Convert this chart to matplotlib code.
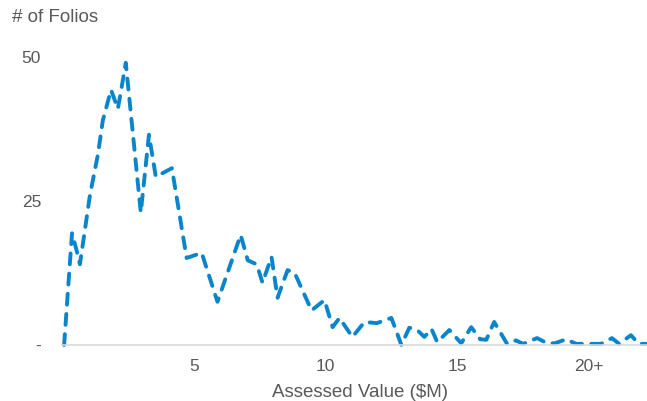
import matplotlib
matplotlib.use("Agg")
from matplotlib import pyplot as plt

# values (x in $M, y = number of folios)
value_m = [0.08, 0.38, 0.55, 0.68, 1.06, 1.36, 1.55, 1.86, 2.12, 2.31, 2.42,
           2.99, 3.30, 3.56, 4.17, 4.73, 5.30, 5.90, 6.78, 7.05, 7.39, 7.61,
           7.95, 8.18, 8.56, 8.83, 9.47, 9.96, 10.27, 10.53, 11.02, 11.48,
           11.95, 12.50, 12.88, 13.18, 13.48, 13.75, 14.02, 14.24, 14.70,
           15.15, 15.53, 15.87, 16.10, 16.40, 16.89, 17.23, 17.50, 18.03,
           18.41, 18.71, 19.13, 19.51, 20.08, 20.45, 20.87, 21.14, 21.59,
           21.89, 22.16]
folios = [0, 19.4, 16.5, 14, 26, 33, 39, 44.3, 41, 46, 49,
          23, 36.5, 29.2, 30.7, 15.1, 16, 7.5, 19.1, 14.7, 14, 10.8,
          15.3, 8.2, 13, 12.5, 6, 7.8, 3.1, 4.7, 1.4, 4,
          3.8, 4.7, 0, 3.0, 2.6, 1.4, 2.8, 0.5, 2.6,
          0.3, 3.1, 1.0, 0.9, 4.0, 0.2, 0.8, 0.2, 1.2,
          0.3, 0.3, 1.0, 0.2, 0.2, 0.2, 1.2, 0.2, 1.7,
          0.2, 0.2]

x_ticks = [5, 10, 15, 20]
x_labels = ["5", "10", "15", "20+"]
y_ticks = [0, 25, 50]
y_labels = ["-", "25", "50"]

plt.rcParams['font.family'] = ['Liberation Sans', 'DejaVu Sans']
grey = '#595959'

fig = plt.figure(figsize=(6.47, 4.01), dpi=100)
ax = fig.add_axes([62 / 647, 1 - 345 / 401, 1 - 62 / 647, (345 - 57) / 401])

line, = ax.plot(value_m, folios, color='#0A85CC', linewidth=2.8,
                linestyle='--', dash_capstyle='round', clip_on=False)
line.set_dashes([2.8, 2.4])

ax.set_xlim(0, 22.2)
ax.set_ylim(0, 50)

ax.set_xticks(x_ticks)
ax.set_xticklabels(x_labels)
ax.set_yticks(y_ticks)
ax.set_yticklabels(y_labels)
ax.tick_params(length=0, labelsize=12.5, labelcolor=grey)
ax.tick_params(axis='x', pad=10)
ax.tick_params(axis='y', pad=15)

for side in ['top', 'right', 'left']:
    ax.spines[side].set_visible(False)
ax.spines['bottom'].set_color('#d9d9d9')
ax.spines['bottom'].set_linewidth(1.2)

ax.set_xlabel("Assessed Value ($M)", fontsize=13.5, color=grey, labelpad=8)
ax.xaxis.set_label_coords(0.51, -0.135)
fig.text(12 / 647, 1 - 18 / 401, "# of Folios", fontsize=13.5, color=grey,
         ha='left', va='center')

fig.savefig("out.png", dpi=100)
